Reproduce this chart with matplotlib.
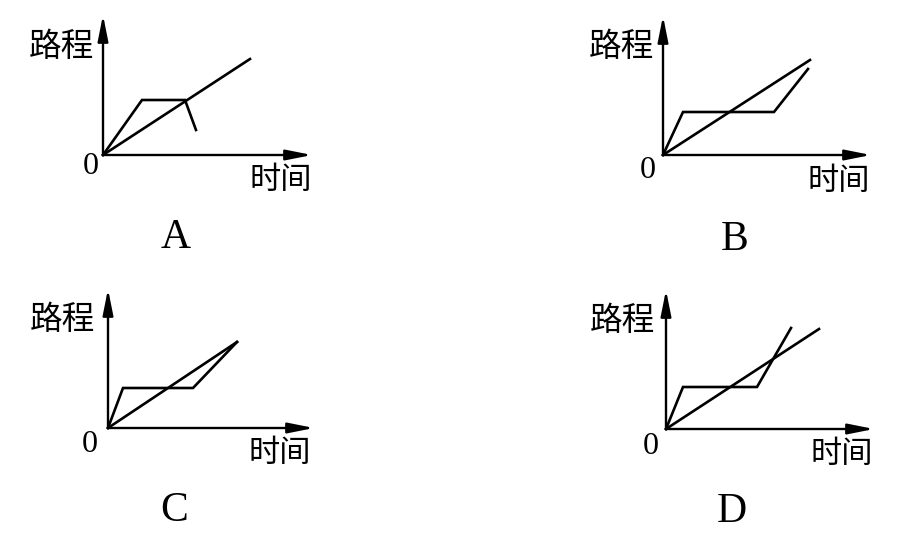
import matplotlib
matplotlib.use("Agg")
import matplotlib.pyplot as plt

plt.rcParams['font.family'] = ['Noto Sans CJK SC', 'DejaVu Sans']

# 每个小图: 匀速直线 (时间, 路程) 和 折线 (时间, 路程)
panel_names = ['A', 'B', 'C', 'D']

line_t = {
    'A': [0, 14.7],
    'B': [0, 14.7],
    'C': [0, 12.9],
    'D': [0, 15.3],
}
line_s = {
    'A': [0, 9.6],
    'B': [0, 9.5],
    'C': [0, 8.6],
    'D': [0, 10.0],
}
poly_t = {
    'A': [0, 3.9, 8.2, 9.3],
    'B': [0, 2.0, 11.1, 14.5],
    'C': [0, 1.5, 8.5, 12.9],
    'D': [0, 1.7, 9.1, 12.5],
}
poly_s = {
    'A': [0, 5.5, 5.5, 2.5],
    'B': [0, 4.3, 4.3, 8.6],
    'C': [0, 4.0, 4.0, 8.6],
    'D': [0, 4.2, 4.2, 10.1],
}

# 布局 (像素): 原点位置, 坐标轴长度
origins = {'A': (103, 155), 'B': (663, 155), 'C': (108, 428), 'D': (666, 429)}
x_len = {'A': 20.9, 'B': 20.8, 'C': 20.6, 'D': 20.8}
y_len = {'A': 14.0, 'B': 13.9, 'C': 13.9, 'D': 13.9}
letter_pos = {'A': (7.3, -8.3), 'B': (7.2, -8.5), 'C': (6.6, -8.3), 'D': (6.6, -8.3)}
zero_pos = {'A': (-1.25, -1.2), 'B': (-1.5, -1.6), 'C': (-1.8, -1.6), 'D': (-1.5, -1.7)}
time_pos = {'A': (17.8, -2.5), 'B': (17.6, -2.6), 'C': (17.2, -2.5), 'D': (17.6, -2.5)}
dist_pos = {'A': (-4.2, 10.8), 'B': (-4.2, 10.8), 'C': (-4.6, 10.8), 'D': (-4.4, 10.8)}

W, H = 911, 543
fig = plt.figure(figsize=(W / 100, H / 100), dpi=100)
fig.patch.set_facecolor('white')

for name in panel_names:
    ox, oy = origins[name]
    ax = fig.add_axes([ox / W, (H - oy) / H, 210 / W, 140 / H])
    ax.set_xlim(0, 21)
    ax.set_ylim(0, 14)
    ax.axis('off')

    arrow = dict(arrowstyle='-|>,head_length=1.3,head_width=0.26',
                 lw=1.7, color='black', shrinkA=0, shrinkB=0, mutation_scale=12)
    ax.annotate('', xy=(x_len[name], 0), xytext=(0, 0), arrowprops=arrow,
                annotation_clip=False)
    ax.annotate('', xy=(0, y_len[name]), xytext=(0, 0), arrowprops=arrow,
                annotation_clip=False)

    ax.plot(line_t[name], line_s[name], color='black', lw=1.9, clip_on=False,
            solid_joinstyle='miter')
    ax.plot(poly_t[name], poly_s[name], color='black', lw=1.9, clip_on=False,
            solid_joinstyle='miter')

    ax.text(*dist_pos[name], '路程', fontsize=23.5, weight='medium',
            ha='center', va='center')
    ax.text(*time_pos[name], '时间', fontsize=22.5, ha='center', va='center')
    ax.text(*zero_pos[name], '0', fontsize=23, family='Liberation Serif',
            ha='center', va='center')
    ax.text(*letter_pos[name], name, fontsize=30, family='Liberation Serif',
            ha='center', va='center')

fig.savefig('out.png', dpi=100, facecolor='white')
